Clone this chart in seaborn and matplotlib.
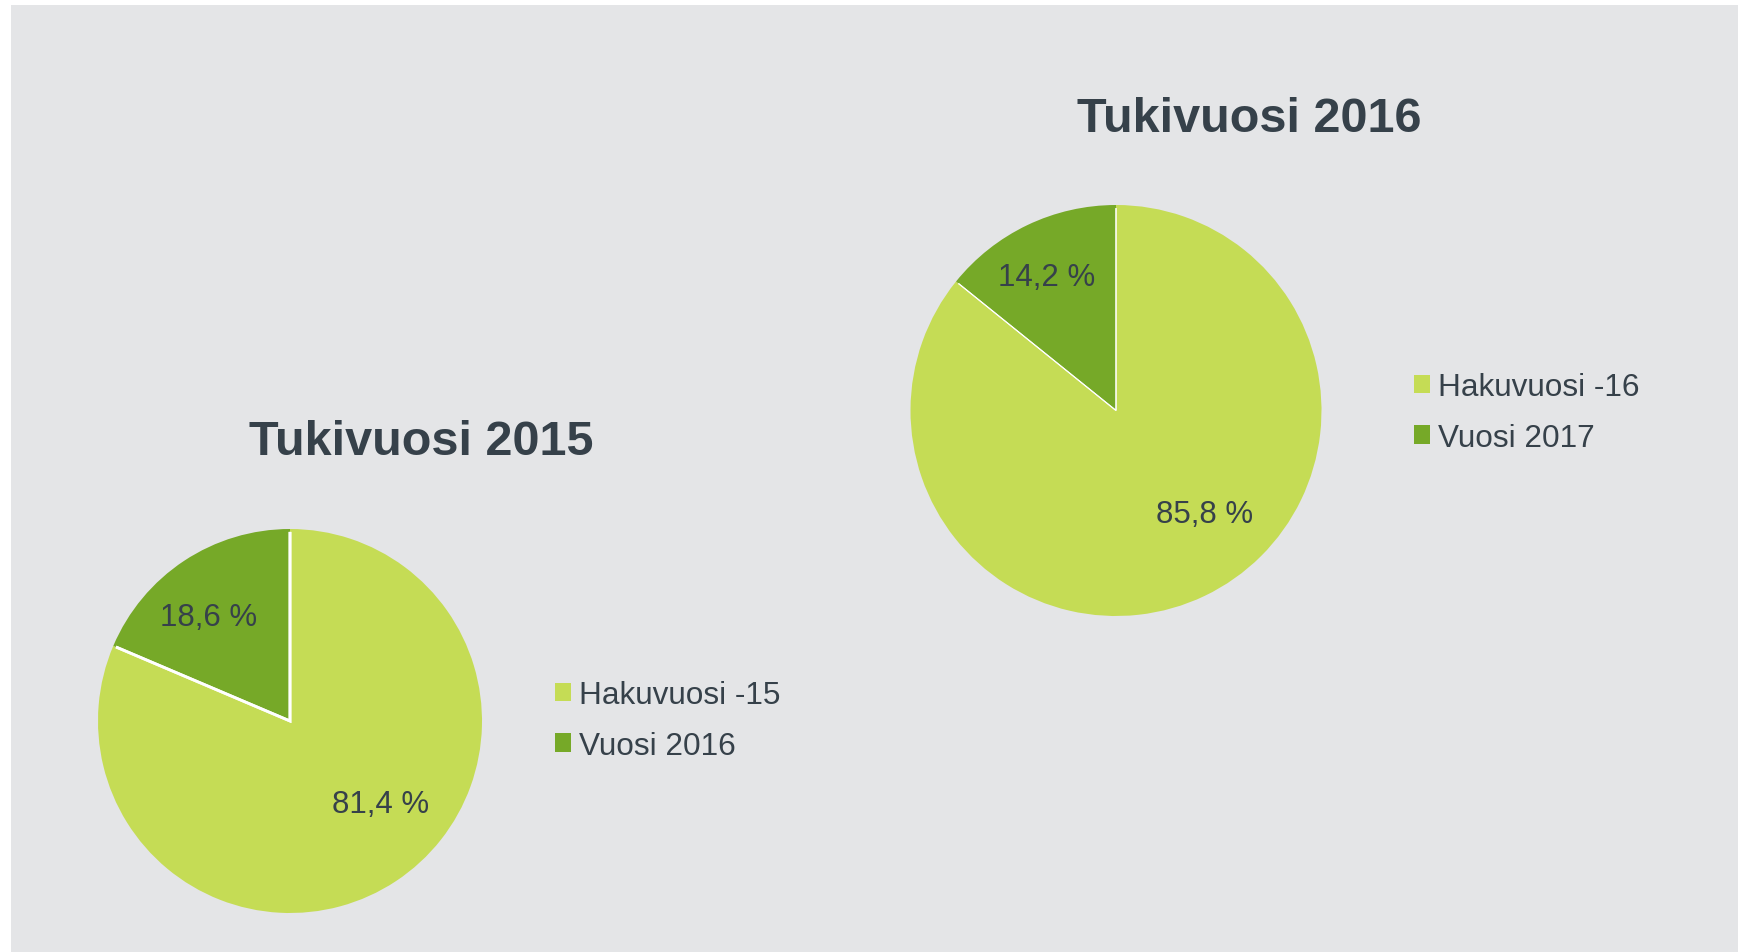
import numpy as np
import matplotlib
matplotlib.use("Agg")
import matplotlib.pyplot as plt
from matplotlib.patches import Rectangle, Patch, Circle
import seaborn as sns

# ---- data ----
titles = ["Tukivuosi 2015", "Tukivuosi 2016"]
labels_2015 = ["Hakuvuosi -15", "Vuosi 2016"]
values_2015 = [81.4, 18.6]
labels_2016 = ["Hakuvuosi -16", "Vuosi 2017"]
values_2016 = [85.8, 14.2]

# ---- style ----
sns.set_theme(style="white")
plt.rcParams['font.family'] = ['Liberation Sans', 'DejaVu Sans']

W, H = 1743, 953
DPI = 100
light, dark = "#C5DC55", "#76A928"
text_col = "#36414A"
bg = "#E4E5E7"
colors = sns.color_palette([light, dark])

fig = plt.figure(figsize=(W / DPI, H / DPI), dpi=DPI, facecolor="white")
fig.patches.append(Rectangle((11 / W, 0), (1738 - 11) / W, 1 - 6 / H,
                             transform=fig.transFigure, facecolor=bg,
                             edgecolor="none", zorder=-10))

def px(x, y):
    return x / W, 1 - y / H

def make_pie(cx, cy, R, values, labels, title, title_xy, legend_xy,
             edge_w, label_pos):
    m = 1.3
    ax = fig.add_axes([(cx - m * R) / W, (H - cy - m * R) / H,
                       2 * m * R / W, 2 * m * R / H])
    ax.set_facecolor("none")
    wedges, _, autotexts = ax.pie(
        values, colors=colors, startangle=90, counterclock=False,
        autopct=lambda p: f"{p:.1f} %".replace(".", ","),
        wedgeprops=dict(edgecolor="none", linewidth=0),
        textprops=dict(color=text_col, fontsize=22.5))
    # white separators between slices only (outer arc clipped away)
    seps, _ = ax.pie(values, startangle=90, counterclock=False,
                     wedgeprops=dict(facecolor="none", edgecolor="white",
                                     linewidth=edge_w))
    clip = Circle((0, 0), 0.985, transform=ax.transData)
    for s in seps:
        s.set_clip_on(True)
        s.set_clip_path(clip)
    for w, t, (shift, d) in zip(wedges, autotexts, label_pos):
        th = np.deg2rad((w.theta1 + w.theta2) / 2 + shift)
        t.set_position((d * np.cos(th), d * np.sin(th)))
        t.set_ha("center"); t.set_va("center")
        t.set_zorder(5)
    ax.set_xlim(-m, m); ax.set_ylim(-m, m)
    ax.set_aspect("equal")
    ax.axis("off")
    fig.text(*px(*title_xy), title, ha="center", va="baseline",
             fontsize=35, fontweight="bold", color=text_col)
    handles = [Patch(facecolor=c, edgecolor="none") for c in colors]
    fig.legend(handles, labels, loc="upper left",
               bbox_to_anchor=px(*legend_xy), frameon=False,
               fontsize=22.7, labelcolor=text_col,
               handlelength=0.52, handleheight=0.52, handletextpad=0.25,
               labelspacing=0.66, borderpad=0, borderaxespad=0)

make_pie(290, 722, 192, values_2015, labels_2015, titles[0],
         (421, 455), (555, 681), 2.0, [(13.8, 0.64), (4.5, 0.69)])
make_pie(1116, 411.5, 205.5, values_2016, labels_2016, titles[1],
         (1249, 132), (1414, 373), 0.8, [(15.0, 0.66), (1.8, 0.73)])

fig.savefig("out.png", dpi=DPI, facecolor=fig.get_facecolor())
